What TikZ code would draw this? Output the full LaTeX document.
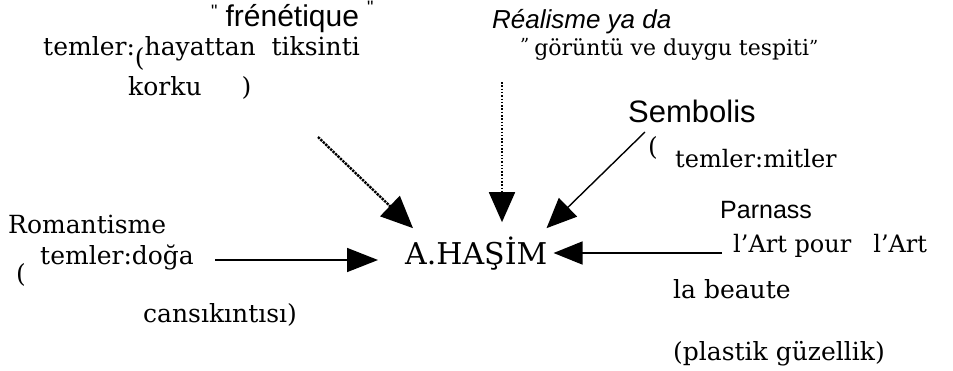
\documentclass[tikz,border=0pt]{standalone}
\usepackage{fontspec}
\setmainfont{DejaVu Serif}
\newfontfamily\movfont{Liberation Sans}
\usetikzlibrary{arrows.meta}
\tikzset{
  >={Triangle[length=30pt,width=26pt]},
  word/.style={font=\fontsize{#1}{#1}\selectfont,anchor=base west,inner sep=0pt},
  word/.default=25,
  title/.style={font=\movfont\fontsize{#1}{#1}\selectfont,anchor=base west,inner sep=0pt},
  title/.default=28,
  flow/.style={->,line width=#1},
  flow/.default=1.6pt,
}
\newcommand{\qmark}[1]{\raisebox{#1}{\fontsize{18}{18}\selectfont"}}

\begin{document}
\begin{tikzpicture}[x=1pt,y=-1pt]
  \useasboundingbox (0,0) rectangle (953,370);
  % centre
  \node[word=30] (hasim) at (405,264) {A.HAŞİM};
  % frenetique
  \node[title=30] (fren) at (211,26) {\qmark{9pt}\hspace{8pt}frénétique\hspace{8pt}\qmark{13pt}};
  \node[word] (frenthemes) at (43,55) {temler:\raisebox{-11pt}{(}hayattan\ \ tiksinti};
  \node[word] (korku) at (128,95) {korku\hspace{40pt})};
  % realisme
  \node[title=26] (realisme) at (492,28) {\itshape Réalisme ya da};
  \node[word=22] (goruntu) at (520,55) {\qmark{4pt}\hspace{5pt}görüntü ve duygu tespiti\qmark{2pt}};
  % sembolis
  \node[title=31] (sembolis) at (628,122) {Sembolis};
  \node[word] (sparen) at (648,155) {(};
  \node[word=24] (mitler) at (675,167) {temler:mitler};
  % parnass
  \node[title=25] (parnass) at (720,218) {Parnass};
  \node[word=24] (artpour) at (733,252) {l'Art pour\hspace{22pt}l'Art};
  \node[word] (beaute) at (673,298) {la beaute};
  \node[word] (plastik) at (673,360) {(plastik güzellik)};
  % romantisme
  \node[word] (romant) at (8,233) {Romantisme};
  \node[word] (rparen) at (16,282) {(};
  \node[word] (doga) at (40,264) {temler:doğa};
  \node[word] (cansik) at (143,322) {cansıkıntısı)};
  % arrows into A.HASIM
  \coordinate (fromfren) at (318,137);
  \coordinate (fromreal) at (502,82);
  \coordinate (fromsemb) at (645,132);
  \coordinate (fromrom) at (215,260);
  \coordinate (fromparn) at (722,253);
  \draw[flow=2.4pt,densely dotted,-{Triangle[length=32pt,width=28pt]}] (fromfren) -- ([xshift=8pt,yshift=8pt]hasim.north west);
  \draw[flow=1.8pt,dash pattern=on 1.5pt off 1.8pt,shorten >=14pt] (fromreal) -- (fromreal |- hasim.north);
  \draw[flow=1.4pt] (fromsemb) -- ([xshift=-1pt,yshift=8pt]hasim.north east);
  \draw[flow,-{Triangle[length=31pt,width=24pt]},shorten >=27pt] (fromrom) -- (fromrom -| hasim.west);
  \draw[flow,-{Triangle[length=29pt,width=23pt]},shorten >=6pt] (fromparn) -- (fromparn -| hasim.east);
\end{tikzpicture}
\end{document}
